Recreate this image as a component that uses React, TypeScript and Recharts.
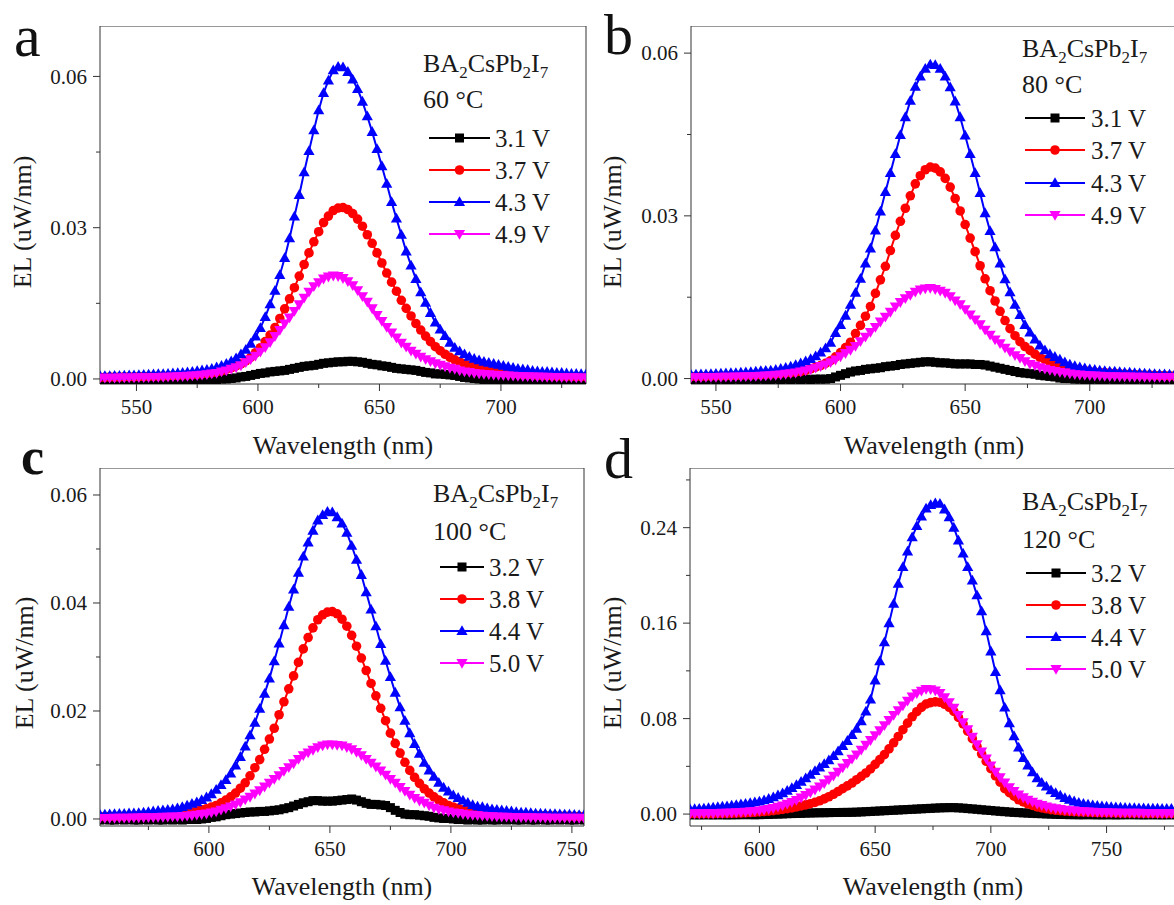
import React from 'react';
import { LineChart, Line, XAxis, YAxis, ReferenceLine } from 'recharts';

const SERIF = '"Liberation Serif", "Times New Roman", Times, serif';
const AXIS = '#333';

// ---- panel a : 60 °C ----
const wlA = [
  535, 537, 539, 541, 543, 545, 547, 549, 551, 553,
  555, 557, 559, 561, 563, 565, 567, 569, 571, 573,
  575, 577, 579, 581, 583, 585, 587, 589, 591, 593,
  595, 597, 599, 601, 603, 605, 607, 609, 611, 613,
  615, 617, 619, 621, 623, 625, 627, 629, 631, 633,
  635, 637, 639, 641, 643, 645, 647, 649, 651, 653,
  655, 657, 659, 661, 663, 665, 667, 669, 671, 673,
  675, 677, 679, 681, 683, 685, 687, 689, 691, 693,
  695, 697, 699, 701, 703, 705, 707, 709, 711, 713,
  715, 717, 719, 721, 723, 725, 727, 729, 731, 733,
  735,
];
const a31 = [
  -0.0002, -0.0002, -0.0001, -0.0002, -0.0002, -0.0001, -0.0002, -0.0002, -0.0001, -0.0002,
  -0.0002, -0.0001, -0.0002, -0.0002, -0.0001, -0.0002, -0.0001, -0.0002, -0.0002, -0.0001,
  -0.0002, -0.0001, -0.0002, -0.0001, -0.0001, 0, 0, 0.0001, 0.0002, 0.0004,
  0.0005, 0.0007, 0.0009, 0.0011, 0.0012, 0.0014, 0.0015, 0.0016, 0.0017, 0.0019,
  0.0021, 0.0023, 0.0025, 0.0026, 0.0027, 0.0029, 0.0031, 0.0032, 0.0033, 0.0034,
  0.0034, 0.0035, 0.0035, 0.0034, 0.0033, 0.0031, 0.0029, 0.0028, 0.0026, 0.0025,
  0.0023, 0.0021, 0.002, 0.0019, 0.0018, 0.0017, 0.0015, 0.0013, 0.0012, 0.001,
  0.001, 0.0009, 0.0008, 0.0007, 0.0005, 0.0003, 0.0002, 0.0001, 0, -0.0001,
  -0.0001, -0.0002, -0.0002, -0.0001, -0.0002, -0.0002, -0.0001, -0.0002, -0.0002, -0.0001,
  -0.0002, -0.0002, -0.0001, -0.0002, -0.0002, -0.0001, -0.0002, -0.0002, -0.0001, -0.0002,
  -0.0002,
];
const a37 = [
  0.00033, 0.00034, 0.00036, 0.00037, 0.00039, 0.00041, 0.00043, 0.00044, 0.00046, 0.00049,
  0.00052, 0.00054, 0.00056, 0.00059, 0.00063, 0.00066, 0.00069, 0.00074, 0.0008, 0.00087,
  0.00093, 0.001, 0.0011, 0.0012, 0.0014, 0.0016, 0.0019, 0.0022, 0.0026, 0.003,
  0.0036, 0.0043, 0.0052, 0.0062, 0.0074, 0.0087, 0.0102, 0.012, 0.0139, 0.0159,
  0.0181, 0.0204, 0.0227, 0.025, 0.0272, 0.0292, 0.031, 0.0323, 0.0334, 0.0339,
  0.034, 0.0336, 0.0328, 0.0317, 0.0303, 0.0286, 0.0269, 0.025, 0.023, 0.021,
  0.0192, 0.0174, 0.0156, 0.014, 0.0125, 0.011, 0.0097, 0.0085, 0.0074, 0.0064,
  0.0056, 0.0049, 0.0043, 0.0038, 0.0034, 0.003, 0.0027, 0.0024, 0.0021, 0.0019,
  0.0017, 0.0015, 0.0014, 0.0013, 0.0012, 0.0011, 0.001, 0.00093, 0.00087, 0.0008,
  0.00072, 0.00068, 0.00064, 0.0006, 0.00057, 0.00055, 0.00052, 0.0005, 0.00048, 0.00046,
  0.00045,
];
const a43 = [
  0.00056, 0.00058, 0.0006, 0.00063, 0.00065, 0.00068, 0.00071, 0.00074, 0.00078, 0.00081,
  0.00085, 0.0009, 0.00095, 0.00098, 0.00103, 0.0011, 0.00117, 0.00123, 0.0013, 0.00143,
  0.00157, 0.0017, 0.00183, 0.002, 0.0023, 0.0026, 0.003, 0.0035, 0.0041, 0.0049,
  0.0058, 0.007, 0.0084, 0.0101, 0.0123, 0.0148, 0.0175, 0.0206, 0.024, 0.0279,
  0.0322, 0.0365, 0.041, 0.0452, 0.0493, 0.0533, 0.0567, 0.0592, 0.0612, 0.0619,
  0.0618, 0.0609, 0.0594, 0.0575, 0.055, 0.0521, 0.049, 0.0456, 0.0422, 0.0387,
  0.0351, 0.0318, 0.0286, 0.0253, 0.0225, 0.0198, 0.0172, 0.0151, 0.0131, 0.0112,
  0.0098, 0.0085, 0.0072, 0.0062, 0.0055, 0.0049, 0.0044, 0.004, 0.0037, 0.0034,
  0.0032, 0.003, 0.0028, 0.0026, 0.0024, 0.0022, 0.002, 0.0019, 0.0018, 0.0016,
  0.0015, 0.0014, 0.0014, 0.0013, 0.0012, 0.0012, 0.0011, 0.001, 0.001, 0.00095,
  0.0009,
];
const a49 = [
  0.00023, 0.00024, 0.00025, 0.00026, 0.00027, 0.00029, 0.0003, 0.00031, 0.00033, 0.00035,
  0.00036, 0.00038, 0.0004, 0.00042, 0.00045, 0.00049, 0.00052, 0.00057, 0.00062, 0.00069,
  0.00075, 0.00082, 0.00094, 0.0011, 0.0012, 0.0015, 0.0017, 0.002, 0.0023, 0.0027,
  0.0033, 0.0039, 0.0046, 0.0054, 0.0063, 0.0073, 0.0085, 0.0097, 0.011, 0.0122,
  0.0135, 0.0148, 0.0161, 0.0173, 0.0184, 0.0192, 0.0199, 0.0203, 0.0205, 0.0204,
  0.02, 0.0194, 0.0186, 0.0176, 0.0164, 0.0153, 0.014, 0.0127, 0.0115, 0.0103,
  0.0092, 0.0082, 0.0072, 0.0064, 0.0056, 0.005, 0.0044, 0.0039, 0.0035, 0.0031,
  0.0028, 0.0025, 0.0022, 0.002, 0.0017, 0.0015, 0.0014, 0.0012, 0.0011, 0.001,
  0.00092, 0.00085, 0.00078, 0.00073, 0.00068, 0.00064, 0.0006, 0.00056, 0.00053, 0.0005,
  0.00047, 0.00044, 0.00042, 0.0004, 0.00038, 0.00036, 0.00035, 0.00034, 0.00032, 0.00031,
  0.0003,
];

// ---- panel b : 80 °C ----
const wlB = [
  540, 542, 544, 546, 548, 550, 552, 554, 556, 558,
  560, 562, 564, 566, 568, 570, 572, 574, 576, 578,
  580, 582, 584, 586, 588, 590, 592, 594, 596, 598,
  600, 602, 604, 606, 608, 610, 612, 614, 616, 618,
  620, 622, 624, 626, 628, 630, 632, 634, 636, 638,
  640, 642, 644, 646, 648, 650, 652, 654, 656, 658,
  660, 662, 664, 666, 668, 670, 672, 674, 676, 678,
  680, 682, 684, 686, 688, 690, 692, 694, 696, 698,
  700, 702, 704, 706, 708, 710, 712, 714, 716, 718,
  720, 722, 724, 726, 728, 730, 732, 734,
];
const b31 = [
  -0.0002, -0.0001, -0.0002, -0.0002, -0.0001, -0.0002, -0.0001, -0.0002, -0.0002, -0.0001,
  -0.0002, -0.0002, -0.0001, -0.0002, -0.0001, -0.0002, -0.0002, -0.0001, -0.0002, -0.0001,
  -0.0002, -0.0001, -0.0002, -0.0001, -0.0002, -0.0001, -0.0001, -0.0001, 0, 0.0003,
  0.0006, 0.0009, 0.0012, 0.0014, 0.0015, 0.0017, 0.0018, 0.0019, 0.002, 0.0022,
  0.0023, 0.0024, 0.0026, 0.0027, 0.0028, 0.0029, 0.003, 0.0031, 0.0031, 0.003,
  0.0029, 0.0029, 0.0028, 0.0027, 0.0027, 0.0027, 0.0027, 0.0026, 0.0026, 0.0025,
  0.0023, 0.0021, 0.0019, 0.0017, 0.0015, 0.0013, 0.0011, 0.001, 0.0009, 0.0008,
  0.0006, 0.0005, 0.0004, 0.0003, 0.0001, 0, 0, -0.0001, -0.0001, -0.0002,
  -0.0002, -0.0001, -0.0002, -0.0002, -0.0001, -0.0002, -0.0002, -0.0001, -0.0002, -0.0002,
  -0.0001, -0.0002, -0.0002, -0.0001, -0.0002, -0.0002, -0.0001, -0.0002,
];
const b37 = [
  0.00038, 0.0004, 0.00042, 0.00043, 0.00045, 0.00048, 0.0005, 0.00052, 0.00055, 0.00057,
  0.0006, 0.00063, 0.00066, 0.00069, 0.00073, 0.00078, 0.00083, 0.00088, 0.00095, 0.00105,
  0.0011, 0.0012, 0.0013, 0.0015, 0.0018, 0.0021, 0.0024, 0.0028, 0.0033, 0.004,
  0.0048, 0.0057, 0.0067, 0.0083, 0.0098, 0.0115, 0.0133, 0.0157, 0.0182, 0.0207,
  0.0236, 0.0264, 0.029, 0.0314, 0.0337, 0.0359, 0.0374, 0.0385, 0.039, 0.0388,
  0.0381, 0.0369, 0.0353, 0.0332, 0.0309, 0.0284, 0.0259, 0.0234, 0.0208, 0.0184,
  0.0162, 0.0143, 0.0124, 0.0107, 0.0092, 0.0079, 0.0068, 0.0059, 0.0052, 0.0045,
  0.0039, 0.0035, 0.0031, 0.0028, 0.0025, 0.0022, 0.002, 0.0018, 0.0016, 0.0015,
  0.0013, 0.0012, 0.0011, 0.0011, 0.001, 0.00095, 0.00088, 0.00082, 0.00077, 0.00073,
  0.0007, 0.00067, 0.00063, 0.0006, 0.00057, 0.00055, 0.00052, 0.0005,
];
const b43 = [
  0.0007, 0.00073, 0.00077, 0.0008, 0.00083, 0.00087, 0.00091, 0.00095, 0.001, 0.00104,
  0.0011, 0.00115, 0.0012, 0.0013, 0.0014, 0.00145, 0.0015, 0.0016, 0.0018, 0.002,
  0.0022, 0.0025, 0.0028, 0.0032, 0.0036, 0.0041, 0.0048, 0.0056, 0.0066, 0.0084,
  0.0099, 0.0116, 0.0136, 0.0158, 0.0184, 0.0212, 0.024, 0.0273, 0.0308, 0.0344,
  0.0379, 0.0414, 0.0449, 0.0482, 0.0512, 0.0538, 0.0557, 0.0571, 0.0579, 0.0578,
  0.0571, 0.0557, 0.0537, 0.0511, 0.0482, 0.0448, 0.0414, 0.0379, 0.0342, 0.0305,
  0.0272, 0.0242, 0.0212, 0.0183, 0.0159, 0.0136, 0.0117, 0.0099, 0.0085, 0.0072,
  0.0061, 0.0052, 0.0045, 0.004, 0.0035, 0.003, 0.0026, 0.0023, 0.0021, 0.0019,
  0.0017, 0.0016, 0.0015, 0.0014, 0.0013, 0.0013, 0.0012, 0.0011, 0.0011, 0.001,
  0.00096, 0.00092, 0.00088, 0.00084, 0.0008, 0.00077, 0.00074, 0.0007,
];
const b49 = [
  0.00025, 0.00026, 0.00027, 0.00028, 0.00029, 0.0003, 0.00032, 0.00033, 0.00035, 0.00037,
  0.0004, 0.00042, 0.00045, 0.00048, 0.00052, 0.00057, 0.00062, 0.00069, 0.00077, 0.00087,
  0.00098, 0.0011, 0.0013, 0.0015, 0.0017, 0.002, 0.0023, 0.0026, 0.003, 0.0035,
  0.0041, 0.0047, 0.0053, 0.006, 0.0069, 0.0077, 0.0086, 0.0095, 0.0105, 0.0114,
  0.0123, 0.0133, 0.0141, 0.0148, 0.0154, 0.016, 0.0164, 0.0166, 0.0167, 0.0165,
  0.0162, 0.0158, 0.0152, 0.0144, 0.0137, 0.0128, 0.0118, 0.0109, 0.01, 0.009,
  0.0081, 0.0072, 0.0065, 0.0057, 0.005, 0.0043, 0.0038, 0.0032, 0.0027, 0.0024,
  0.0021, 0.0018, 0.0016, 0.0014, 0.0012, 0.0011, 0.00093, 0.00081, 0.00073, 0.00066,
  0.0006, 0.00055, 0.00051, 0.00047, 0.00044, 0.00042, 0.0004, 0.00038, 0.00036, 0.00035,
  0.00033, 0.00032, 0.00031, 0.0003, 0.00029, 0.00029, 0.00028, 0.00028,
];

// ---- panel c : 100 °C ----
const wlC = [
  555, 557, 559, 561, 563, 565, 567, 569, 571, 573,
  575, 577, 579, 581, 583, 585, 587, 589, 591, 593,
  595, 597, 599, 601, 603, 605, 607, 609, 611, 613,
  615, 617, 619, 621, 623, 625, 627, 629, 631, 633,
  635, 637, 639, 641, 643, 645, 647, 649, 651, 653,
  655, 657, 659, 661, 663, 665, 667, 669, 671, 673,
  675, 677, 679, 681, 683, 685, 687, 689, 691, 693,
  695, 697, 699, 701, 703, 705, 707, 709, 711, 713,
  715, 717, 719, 721, 723, 725, 727, 729, 731, 733,
  735, 737, 739, 741, 743, 745, 747, 749, 751, 753,
  755,
];
const c32 = [
  -0.0002, -0.0001, -0.0002, -0.0002, -0.0001, -0.0002, -0.0001, -0.0002, -0.0002, -0.0001,
  -0.0002, -0.0001, -0.0002, -0.0002, -0.0001, -0.0002, -0.0001, -0.0002, -0.0001, -0.0001,
  -0.0001, 0, 0.0001, 0.0003, 0.0004, 0.0006, 0.0008, 0.0009, 0.001, 0.0011,
  0.0012, 0.0013, 0.0013, 0.0014, 0.0014, 0.0015, 0.0016, 0.0017, 0.0019, 0.0021,
  0.0024, 0.0027, 0.003, 0.0032, 0.0034, 0.0034, 0.0033, 0.0033, 0.0033, 0.0034,
  0.0035, 0.0036, 0.0037, 0.0035, 0.0032, 0.0029, 0.0027, 0.0027, 0.0026, 0.0025,
  0.0021, 0.0016, 0.0012, 0.0009, 0.0008, 0.0008, 0.0007, 0.0006, 0.0005, 0.0003,
  0.0002, 0.0001, 0.0001, 0, -0.0001, -0.0001, -0.0002, -0.0001, -0.0002, -0.0002,
  -0.0001, -0.0002, -0.0002, -0.0001, -0.0002, -0.0001, -0.0002, -0.0002, -0.0001, -0.0002,
  -0.0002, -0.0001, -0.0002, -0.0002, -0.0001, -0.0002, -0.0001, -0.0002, -0.0002, -0.0001,
  -0.0002,
];
const c38 = [
  0.00045, 0.00046, 0.00048, 0.0005, 0.00053, 0.00055, 0.00058, 0.0006, 0.00063, 0.00067,
  0.0007, 0.00074, 0.00078, 0.00083, 0.00088, 0.00094, 0.001, 0.0011, 0.0012, 0.0013,
  0.0015, 0.0017, 0.0019, 0.0022, 0.0025, 0.003, 0.0035, 0.0041, 0.0048, 0.0057,
  0.0067, 0.008, 0.0095, 0.011, 0.0129, 0.0148, 0.0168, 0.0193, 0.0217, 0.0241,
  0.0265, 0.029, 0.0315, 0.0336, 0.0354, 0.0369, 0.0378, 0.0383, 0.0384, 0.038,
  0.037, 0.0357, 0.034, 0.032, 0.0298, 0.0275, 0.0251, 0.0228, 0.0205, 0.0182,
  0.0159, 0.014, 0.0122, 0.0105, 0.009, 0.0077, 0.0066, 0.0056, 0.0048, 0.0041,
  0.0035, 0.003, 0.0025, 0.0022, 0.002, 0.0017, 0.0015, 0.0014, 0.0013, 0.0012,
  0.0011, 0.001, 0.00095, 0.0009, 0.00085, 0.00082, 0.00078, 0.00075, 0.00072, 0.0007,
  0.00067, 0.00064, 0.00062, 0.0006, 0.00058, 0.00056, 0.00054, 0.00052, 0.0005, 0.00048,
  0.00047,
];
const c44 = [
  0.00079, 0.00082, 0.00086, 0.0009, 0.00094, 0.00098, 0.00103, 0.00107, 0.0011, 0.0012,
  0.00127, 0.0014, 0.0015, 0.0016, 0.0017, 0.0018, 0.002, 0.0022, 0.0025, 0.0028,
  0.0031, 0.0035, 0.004, 0.0046, 0.0054, 0.0063, 0.0072, 0.0084, 0.0099, 0.0115,
  0.0134, 0.0155, 0.0178, 0.0204, 0.0232, 0.026, 0.0292, 0.0325, 0.0359, 0.0393,
  0.0425, 0.0456, 0.0486, 0.0512, 0.0534, 0.0553, 0.0563, 0.0569, 0.0568, 0.0559,
  0.0547, 0.053, 0.0506, 0.048, 0.0452, 0.042, 0.0388, 0.0357, 0.0324, 0.0293,
  0.0263, 0.0234, 0.0207, 0.0182, 0.0159, 0.0139, 0.0121, 0.0104, 0.009, 0.0078,
  0.0067, 0.0058, 0.0051, 0.0044, 0.0039, 0.0034, 0.003, 0.0026, 0.0023, 0.0022,
  0.002, 0.0018, 0.0017, 0.0016, 0.0015, 0.0014, 0.0013, 0.0012, 0.0012, 0.0011,
  0.001, 0.00099, 0.00095, 0.00092, 0.00089, 0.00086, 0.00083, 0.0008, 0.00077, 0.00073,
  0.0007,
];
const c50 = [
  0.0002, 0.0002, 0.0002, 0.00021, 0.00022, 0.00024, 0.00025, 0.00027, 0.00028, 0.0003,
  0.00032, 0.00034, 0.00036, 0.00039, 0.00042, 0.00045, 0.00048, 0.00053, 0.0006, 0.00067,
  0.00077, 0.0009, 0.001, 0.0012, 0.0014, 0.0017, 0.002, 0.0023, 0.0027, 0.0031,
  0.0036, 0.0041, 0.0047, 0.0053, 0.006, 0.0067, 0.0074, 0.0081, 0.0089, 0.0096,
  0.0103, 0.0111, 0.0118, 0.0123, 0.0128, 0.0133, 0.0136, 0.0138, 0.0138, 0.0137,
  0.0136, 0.0133, 0.0129, 0.0124, 0.0118, 0.0111, 0.0104, 0.0097, 0.009, 0.0082,
  0.0074, 0.0067, 0.0059, 0.0052, 0.0045, 0.0039, 0.0034, 0.003, 0.0025, 0.0021,
  0.0018, 0.0016, 0.0014, 0.0012, 0.0011, 0.00095, 0.00085, 0.00075, 0.00068, 0.00062,
  0.00055, 0.0005, 0.00046, 0.00043, 0.0004, 0.00038, 0.00036, 0.00034, 0.00032, 0.0003,
  0.00028, 0.00027, 0.00026, 0.00025, 0.00024, 0.00024, 0.00023, 0.00022, 0.00022, 0.00021,
  0.0002,
];

// ---- panel d : 120 °C ----
const wlD = [
  570, 572, 574, 576, 578, 580, 582, 584, 586, 588,
  590, 592, 594, 596, 598, 600, 602, 604, 606, 608,
  610, 612, 614, 616, 618, 620, 622, 624, 626, 628,
  630, 632, 634, 636, 638, 640, 642, 644, 646, 648,
  650, 652, 654, 656, 658, 660, 662, 664, 666, 668,
  670, 672, 674, 676, 678, 680, 682, 684, 686, 688,
  690, 692, 694, 696, 698, 700, 702, 704, 706, 708,
  710, 712, 714, 716, 718, 720, 722, 724, 726, 728,
  730, 732, 734, 736, 738, 740, 742, 744, 746, 748,
  750, 752, 754, 756, 758, 760, 762, 764, 766, 768,
  770, 772, 774, 776, 778, 780,
];
const d32 = [
  -0.0006, -0.0006, -0.0007, -0.0006, -0.0006, -0.0007, -0.0006, -0.0006, -0.0007, -0.0006,
  -0.0006, -0.0005, -0.0005, -0.0005, -0.0006, -0.0005, -0.0004, -0.0003, -0.0001, 0,
  0.0001, 0.0003, 0.0004, 0.0005, 0.0006, 0.0008, 0.0009, 0.001, 0.0011, 0.0011,
  0.0012, 0.0013, 0.0013, 0.0014, 0.0014, 0.0015, 0.0016, 0.0018, 0.002, 0.0022,
  0.0024, 0.0026, 0.0028, 0.003, 0.0032, 0.0034, 0.0036, 0.0038, 0.004, 0.0042,
  0.0044, 0.0046, 0.0048, 0.005, 0.0052, 0.0053, 0.0054, 0.0054, 0.0052, 0.005,
  0.0046, 0.0043, 0.004, 0.0036, 0.0033, 0.003, 0.0026, 0.0023, 0.002, 0.0017,
  0.0014, 0.0012, 0.001, 0.0008, 0.0006, 0.0004, 0.0003, 0.0001, 0, -0.0002,
  -0.0003, -0.0004, -0.0005, -0.0005, -0.0006, -0.0006, -0.0005, -0.0006, -0.0006, -0.0007,
  -0.0006, -0.0006, -0.0007, -0.0006, -0.0006, -0.0005, -0.0006, -0.0006, -0.0007, -0.0006,
  -0.0006, -0.0006, -0.0007, -0.0006, -0.0006, -0.0006,
];
const d38 = [
  0.0003, 0.0003, 0.0003, 0.0004, 0.0004, 0.0004, 0.0005, 0.0005, 0.0006, 0.0007,
  0.0008, 0.0009, 0.0011, 0.0013, 0.0015, 0.0018, 0.0021, 0.0025, 0.0029, 0.0034,
  0.0039, 0.0045, 0.0052, 0.006, 0.0068, 0.0077, 0.0087, 0.0098, 0.0111, 0.0127,
  0.0145, 0.0166, 0.0189, 0.0213, 0.0236, 0.026, 0.0288, 0.0316, 0.0344, 0.0378,
  0.0416, 0.0456, 0.0498, 0.0546, 0.0597, 0.065, 0.0707, 0.0762, 0.0815, 0.0858,
  0.0894, 0.0922, 0.0934, 0.094, 0.0937, 0.092, 0.0895, 0.086, 0.081, 0.0755,
  0.0695, 0.0632, 0.0568, 0.0505, 0.0442, 0.038, 0.032, 0.0267, 0.0213, 0.018,
  0.015, 0.012, 0.0102, 0.0086, 0.0072, 0.006, 0.0051, 0.0044, 0.0037, 0.0032,
  0.0028, 0.0025, 0.0022, 0.002, 0.0018, 0.0017, 0.0016, 0.0014, 0.0013, 0.0012,
  0.0011, 0.0011, 0.001, 0.0009, 0.0009, 0.0008, 0.0008, 0.0008, 0.0007, 0.0007,
  0.0007, 0.0006, 0.0006, 0.0006, 0.0005, 0.0005,
];
const d44 = [
  0.004, 0.0042, 0.0044, 0.0047, 0.005, 0.0054, 0.0058, 0.0062, 0.0066, 0.0071,
  0.0076, 0.0082, 0.0087, 0.0092, 0.0098, 0.0105, 0.0115, 0.0127, 0.014, 0.0157,
  0.0175, 0.0195, 0.0218, 0.0243, 0.027, 0.03, 0.033, 0.036, 0.039, 0.042,
  0.045, 0.0487, 0.0527, 0.057, 0.0613, 0.0662, 0.0715, 0.0778, 0.086, 0.096,
  0.112, 0.128, 0.144, 0.16, 0.1763, 0.193, 0.207, 0.22, 0.232, 0.2413,
  0.2493, 0.256, 0.259, 0.2605, 0.26, 0.2553, 0.2487, 0.24, 0.2293, 0.2183,
  0.207, 0.1957, 0.1833, 0.17, 0.1533, 0.1363, 0.119, 0.1037, 0.0893, 0.076,
  0.0653, 0.0557, 0.047, 0.0407, 0.035, 0.03, 0.0263, 0.023, 0.02, 0.0177,
  0.0155, 0.0135, 0.012, 0.0106, 0.0095, 0.0087, 0.008, 0.0074, 0.0069, 0.0065,
  0.0062, 0.0059, 0.0057, 0.0055, 0.0053, 0.0051, 0.005, 0.0049, 0.0048, 0.0047,
  0.0046, 0.0046, 0.0045, 0.0045, 0.0044, 0.0043,
];
const d50 = [
  0.0005, 0.0006, 0.0006, 0.0007, 0.0008, 0.0008, 0.0009, 0.001, 0.0012, 0.0013,
  0.0015, 0.0017, 0.0019, 0.0022, 0.0026, 0.003, 0.0036, 0.0043, 0.005, 0.0061,
  0.0072, 0.0086, 0.0102, 0.0118, 0.0138, 0.0159, 0.0181, 0.0205, 0.0232, 0.0259,
  0.029, 0.0322, 0.0355, 0.039, 0.0427, 0.0463, 0.05, 0.054, 0.058, 0.062,
  0.066, 0.0702, 0.0745, 0.0788, 0.083, 0.087, 0.091, 0.095, 0.0985, 0.1012,
  0.1033, 0.1048, 0.1046, 0.1035, 0.1015, 0.0978, 0.0937, 0.089, 0.083, 0.077,
  0.071, 0.0647, 0.0585, 0.0525, 0.0465, 0.0408, 0.0355, 0.0308, 0.0265, 0.0225,
  0.0194, 0.0165, 0.014, 0.012, 0.0103, 0.0087, 0.0075, 0.0064, 0.0055, 0.0048,
  0.0042, 0.0036, 0.0032, 0.0029, 0.0026, 0.0023, 0.0021, 0.0019, 0.0018, 0.0016,
  0.0015, 0.0014, 0.0013, 0.0012, 0.0012, 0.0011, 0.001, 0.001, 0.0009, 0.0009,
  0.0009, 0.0008, 0.0008, 0.0008, 0.0007, 0.0007,
];

type Shape = 'square' | 'circle' | 'up' | 'down';
interface Series { name: string; color: string; shape: Shape; values: number[] }

const BLACK = '#000000';
const RED = '#ff0000';
const BLUE = '#0000ff';
const MAGENTA = '#ff00ff';

const Marker = ({ cx, cy, shape, color }: { cx: number; cy: number; shape: Shape; color: string }) => {
  if (shape === 'square') return <rect x={cx - 4.5} y={cy - 4.5} width={9} height={9} fill={color} />;
  if (shape === 'circle') return <circle cx={cx} cy={cy} r={4.8} fill={color} />;
  if (shape === 'up') return <polygon points={`${cx},${cy - 5.8} ${cx + 5.6},${cy + 4} ${cx - 5.6},${cy + 4}`} fill={color} />;
  return <polygon points={`${cx},${cy + 5.8} ${cx + 5.6},${cy - 4} ${cx - 5.6},${cy - 4}`} fill={color} />;
};

const xTick = (majors: number[]) => (props: any) => {
  const { x, y, payload } = props;
  const major = majors.includes(payload.value);
  return (
    <g>
      <line x1={x} y1={y} x2={x} y2={y + (major ? 7 : 4)} stroke={AXIS} />
      {major && (
        <text x={x} y={y + 30} textAnchor="middle" fontSize={21} fill="#1a1a1a" fontFamily={SERIF}>
          {payload.value}
        </text>
      )}
    </g>
  );
};

const yTick = (majors: number[]) => (props: any) => {
  const { x, y, payload } = props;
  const major = majors.some((m) => Math.abs(m - payload.value) < 1e-9);
  return (
    <g>
      <line x1={x} y1={y} x2={x - (major ? 7 : 4)} y2={y} stroke={AXIS} />
      {major && (
        <text x={x - 13} y={y} dy="0.35em" textAnchor="end" fontSize={21} fill="#1a1a1a" fontFamily={SERIF}>
          {payload.value.toFixed(2)}
        </text>
      )}
    </g>
  );
};

const PLOT_H = 358;
const Y_W = 100;
const X_H = 60;
const PAD_R = 24; // room for the last tick label

interface PanelProps {
  left: number;
  top: number;
  plotW: number;
  wl: number[];
  series: Series[];
  xDomain: [number, number];
  xTicks: number[];
  xMajor: number[];
  yDomain: [number, number];
  yTicks: number[];
  yMajor: number[];
}

const Panel = (p: PanelProps) => {
  const rows = p.wl.map((w, i) => {
    const r: Record<string, number> = { wl: w };
    p.series.forEach((s, k) => {
      r['s' + k] = s.values[i];
    });
    return r;
  });
  return (
    <div style={{ position: 'absolute', left: p.left, top: p.top }}>
      <LineChart
        width={Y_W + p.plotW + PAD_R}
        height={PLOT_H + X_H}
        data={rows}
        margin={{ top: 0, right: PAD_R, bottom: 0, left: 0 }}
      >
        <XAxis
          type="number"
          dataKey="wl"
          domain={p.xDomain}
          ticks={p.xTicks}
          interval={0}
          allowDataOverflow
          height={X_H}
          tickSize={0}
          tickMargin={0}
          tickLine={false}
          axisLine={{ stroke: AXIS }}
          tick={xTick(p.xMajor)}
        />
        <YAxis
          type="number"
          domain={p.yDomain}
          ticks={p.yTicks}
          interval={0}
          allowDataOverflow
          width={Y_W}
          tickSize={0}
          tickMargin={0}
          tickLine={false}
          axisLine={{ stroke: AXIS }}
          tick={yTick(p.yMajor)}
        />
        <ReferenceLine y={p.yDomain[1]} stroke={AXIS} />
        <ReferenceLine x={p.xDomain[1]} stroke={AXIS} />
        {p.series.map((s, k) => (
          <Line
            key={s.name}
            dataKey={'s' + k}
            stroke={s.color}
            strokeWidth={2}
            activeDot={false}
            isAnimationActive={false}
            dot={(d: any) => <Marker key={`${k}-${d.index}`} cx={d.cx} cy={d.cy} shape={s.shape} color={s.color} />}
          />
        ))}
      </LineChart>
    </div>
  );
};

const mk = (names: string[], vals: number[][]): Series[] => [
  { name: names[0], color: BLACK, shape: 'square', values: vals[0] },
  { name: names[1], color: RED, shape: 'circle', values: vals[1] },
  { name: names[2], color: BLUE, shape: 'up', values: vals[2] },
  { name: names[3], color: MAGENTA, shape: 'down', values: vals[3] },
];

const seriesA = mk(['3.1 V', '3.7 V', '4.3 V', '4.9 V'], [a31, a37, a43, a49]);
const seriesB = mk(['3.1 V', '3.7 V', '4.3 V', '4.9 V'], [b31, b37, b43, b49]);
const seriesC = mk(['3.2 V', '3.8 V', '4.4 V', '5.0 V'], [c32, c38, c44, c50]);
const seriesD = mk(['3.2 V', '3.8 V', '4.4 V', '5.0 V'], [d32, d38, d44, d50]);

interface LegendProps {
  series: Series[];
  temp: string;
  x: number;
  titleY: number;
  tempY: number;
  rows: number[];
  line: [number, number];
  textX: number;
}

const LegendBlock = ({ series, temp, x, titleY, tempY, rows, line, textX }: LegendProps) => (
  <g fontFamily={SERIF} fill="#1a1a1a">
    <text x={x} y={titleY} fontSize={26}>
      BA<tspan dy={6} fontSize={17}>2</tspan>
      <tspan dy={-6}>CsPb</tspan>
      <tspan dy={6} fontSize={17}>2</tspan>
      <tspan dy={-6}>I</tspan>
      <tspan dy={6} fontSize={17}>7</tspan>
    </text>
    <text x={x} y={tempY} fontSize={26}>{temp}</text>
    {series.map((s, i) => (
      <g key={s.name}>
        <line x1={line[0]} y1={rows[i]} x2={line[1]} y2={rows[i]} stroke={s.color} strokeWidth={2.2} />
        <Marker cx={(line[0] + line[1]) / 2} cy={rows[i]} shape={s.shape} color={s.color} />
        <text x={textX} y={rows[i] + 9} fontSize={25}>{s.name}</text>
      </g>
    ))}
  </g>
);

const Overlay = () => (
  <svg width={1174} height={905} style={{ position: 'absolute', left: 0, top: 0, pointerEvents: 'none' }}>
    <g fontFamily={SERIF} fill="#111">
      <text x={14} y={56} fontSize={60}>a</text>
      <text x={604} y={54} fontSize={58}>b</text>
      <text x={21} y={474} fontSize={52} fontWeight="bold">c</text>
      <text x={604} y={478} fontSize={58}>d</text>
    </g>
    <g fontFamily={SERIF} fill="#1a1a1a" fontSize={26} textAnchor="middle">
      <text x={343} y={454}>Wavelength (nm)</text>
      <text x={934} y={454}>Wavelength (nm)</text>
      <text x={342} y={895}>Wavelength (nm)</text>
      <text x={933} y={895}>Wavelength (nm)</text>
      <text transform="translate(31,222) rotate(-90)">EL (uW/nm)</text>
      <text transform="translate(621,222) rotate(-90)">EL (uW/nm)</text>
      <text transform="translate(33,663) rotate(-90)">EL (uW/nm)</text>
      <text transform="translate(621,663) rotate(-90)">EL (uW/nm)</text>
    </g>
    <LegendBlock series={seriesA} temp="60 °C" x={423} titleY={72} tempY={108} rows={[138, 170, 202, 234]} line={[429, 490]} textX={495} />
    <LegendBlock series={seriesB} temp="80 °C" x={1022} titleY={57} tempY={93} rows={[118, 150, 183, 215]} line={[1025, 1085]} textX={1091} />
    <LegendBlock series={seriesC} temp="100 °C" x={433} titleY={502} tempY={540} rows={[567, 599, 631, 663]} line={[440, 484]} textX={489} />
    <LegendBlock series={seriesD} temp="120 °C" x={1022} titleY={510} tempY={548} rows={[573, 605, 637, 669]} line={[1026, 1086]} textX={1091} />
  </svg>
);

export default function App() {
  return (
    <div style={{ position: 'absolute', left: 0, top: 0, width: 1174, height: 905, overflow: 'hidden', background: '#fff' }}>
      <Panel
        left={0}
        top={26}
        plotW={486}
        wl={wlA}
        series={seriesA}
        xDomain={[535, 735]}
        xTicks={[550, 575, 600, 625, 650, 675, 700, 725]}
        xMajor={[550, 600, 650, 700]}
        yDomain={[-0.001, 0.07]}
        yTicks={[0, 0.015, 0.03, 0.045, 0.06]}
        yMajor={[0, 0.03, 0.06]}
      />
      <Panel
        left={590.6}
        top={26}
        plotW={486}
        wl={wlB}
        series={seriesB}
        xDomain={[540, 735]}
        xTicks={[550, 575, 600, 625, 650, 675, 700, 725]}
        xMajor={[550, 600, 650, 700]}
        yDomain={[-0.001, 0.065]}
        yTicks={[0, 0.015, 0.03, 0.045, 0.06]}
        yMajor={[0, 0.03, 0.06]}
      />
      <Panel
        left={0}
        top={468}
        plotW={484}
        wl={wlC}
        series={seriesC}
        xDomain={[555, 755]}
        xTicks={[575, 600, 625, 650, 675, 700, 725, 750]}
        xMajor={[600, 650, 700, 750]}
        yDomain={[-0.0013, 0.065]}
        yTicks={[0, 0.01, 0.02, 0.03, 0.04, 0.05, 0.06]}
        yMajor={[0, 0.02, 0.04, 0.06]}
      />
      <Panel
        left={590}
        top={468}
        plotW={486}
        wl={wlD}
        series={seriesD}
        xDomain={[570, 780]}
        xTicks={[575, 600, 625, 650, 675, 700, 725, 750, 775]}
        xMajor={[600, 650, 700, 750]}
        yDomain={[-0.01, 0.29]}
        yTicks={[0, 0.04, 0.08, 0.12, 0.16, 0.2, 0.24, 0.28]}
        yMajor={[0, 0.08, 0.16, 0.24]}
      />
      <Overlay />
    </div>
  );
}
